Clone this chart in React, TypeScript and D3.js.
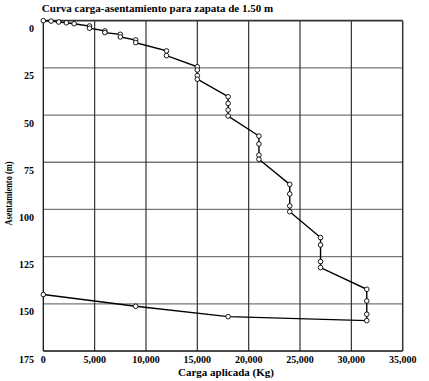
import React from "react";
import * as d3 from "d3";

const loads = [0, 750, 1500, 2250, 3000, 4500, 4500, 6000, 6000, 7500, 7500, 9000, 9000, 12000, 12000,
  15000, 15000, 15000, 15000, 18000, 18000, 18000, 18000, 21000, 21000, 21000, 21000,
  24000, 24000, 24000, 24000, 27000, 27000, 27000, 27000, 31500, 31500, 31500, 31500,
  18000, 9000, 0];
const settlements = [0, 0.2, 0.7, 1.1, 1.6, 2.8, 4.0, 5.4, 6.3, 7.2, 8.6, 10.2, 11.6, 16.0, 18.5,
  24.4, 26.1, 29.1, 31.0, 40.3, 43.8, 47.3, 50.5, 61.1, 65.3, 71.2, 73.4,
  86.7, 91.8, 98.1, 101.2, 114.9, 118.8, 127.6, 130.8, 142.3, 148.5, 155.5, 158.9,
  156.8, 151.3, 145.1];
const xTicks = [0, 5000, 10000, 15000, 20000, 25000, 30000, 35000];
const yTicks = [0, 25, 50, 75, 100, 125, 150, 175];

const W = 429, H = 381;
const L = 43.3, R = 402.7, T = 20.7, B = 351;

export default function App() {
  const x = d3.scaleLinear().domain([0, 35000]).range([L, R]);
  const y = d3.scaleLinear().domain([0, 175]).range([T, B]);
  const pts = loads.map((l, i) => [x(l), y(settlements[i])] as [number, number]);
  const line = d3.line()(pts) || "";
  const fmt = d3.format(",");
  const font = "'Liberation Serif', 'Times New Roman', serif";
  return (
    <svg width={W} height={H} style={{ position: "absolute", left: 0, top: 0, background: "#fff" }}
      fontFamily={font}>
      <rect x={0} y={0} width={W} height={H} fill="#fff" />
      {yTicks.slice(1, -1).map(t => (
        <line key={"h" + t} x1={L} x2={R} y1={y(t)} y2={y(t)} stroke="#777" strokeWidth={1.3} />
      ))}
      {xTicks.slice(1, -1).map(t => (
        <line key={"v" + t} x1={x(t)} x2={x(t)} y1={T} y2={B} stroke="#333" strokeWidth={1.2} />
      ))}
      <line x1={L} x2={R} y1={T} y2={T} stroke="#333" strokeWidth={1.8} />
      <line x1={R} x2={R} y1={T} y2={B} stroke="#333" strokeWidth={1.5} />
      <line x1={L} x2={L} y1={T} y2={B} stroke="#111" strokeWidth={1.3} />
      <line x1={L} x2={R} y1={B} y2={B} stroke="#111" strokeWidth={1.3} />
      <path d={line} fill="none" stroke="#000" strokeWidth={1.4} />
      {pts.map((p, i) => (
        <circle key={i} cx={p[0]} cy={p[1]} r={2.3} fill="#fff" stroke="#000" strokeWidth={0.9} />
      ))}
      {yTicks.map(t => (
        <text key={"yl" + t} x={34} y={y(t) + 11.5} textAnchor="end" fontSize={10} fontWeight="bold">{t}</text>
      ))}
      {xTicks.map(t => (
        <text key={"xl" + t} x={x(t)} y={362.5} textAnchor="middle" fontSize={10} fontWeight="bold">{fmt(t)}</text>
      ))}
      <text x={157.5} y={12} textAnchor="middle" fontSize={11} fontWeight="bold">Curva carga-asentamiento para zapata de 1.50 m</text>
      <text x={226} y={376} textAnchor="middle" fontSize={11} fontWeight="bold">Carga aplicada (Kg)</text>
      <text transform="translate(11.5,193.5) rotate(-90)" textAnchor="middle" fontSize={11} fontWeight="bold"
        textLength={64} lengthAdjust="spacingAndGlyphs">Asentamiento (m)</text>
    </svg>
  );
}
